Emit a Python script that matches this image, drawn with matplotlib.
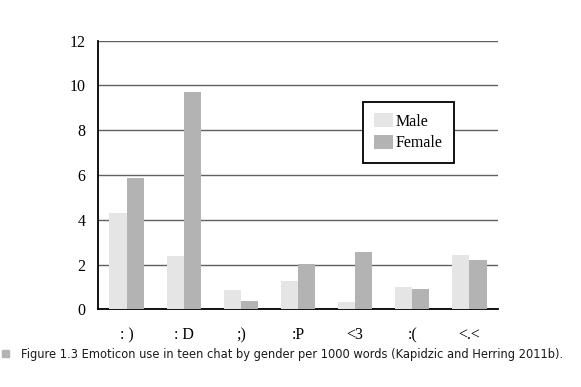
import numpy as np
import matplotlib.pyplot as plt
from matplotlib.patches import Rectangle

# emoticon categories and rates per 1000 words
emoticons = [": )", ": D", ";)", ":P", "<3", ":(", "<.<"]
male = [4.3, 2.4, 0.86, 1.26, 0.34, 1.01, 2.42]
female = [5.85, 9.7, 0.38, 2.02, 2.56, 0.89, 2.2]
yticks = [0, 2, 4, 6, 8, 10, 12]

fig = plt.figure(figsize=(5.81, 3.87), dpi=100)
ax = fig.add_axes([0.1687, 0.2008, 0.6885, 0.694])

x = np.arange(len(emoticons))
w = 0.3
ax.bar(x - w / 2, male, w, color="#e5e5e5", label="Male", zorder=3)
ax.bar(x + w / 2, female, w, color="#b3b3b3", label="Female", zorder=3)

ax.set_xlim(-0.5, len(emoticons) - 0.5)
ax.set_ylim(0, 12)
ax.set_yticks(yticks)
ax.set_xticks(x)
ax.set_xticklabels(emoticons)
ax.yaxis.grid(True, color="#606060", linewidth=1.0, zorder=0)
ax.set_axisbelow(True)

for s in ["top", "right"]:
    ax.spines[s].set_visible(False)
ax.spines["left"].set_linewidth(1.3)
ax.spines["bottom"].set_linewidth(1.3)
ax.tick_params(length=0, labelsize=11.5, pad=9)
ax.tick_params(axis="x", pad=13)
for lbl in ax.get_xticklabels() + ax.get_yticklabels():
    lbl.set_fontfamily("Liberation Serif")

leg = ax.legend(loc="upper left", bbox_to_anchor=(0.6625, 0.772), borderaxespad=0,
                frameon=True, fancybox=False, edgecolor="black", framealpha=1,
                prop={"family": "Liberation Serif", "size": 11.5},
                handlelength=1.2, handleheight=0.95, handletextpad=0.15,
                borderpad=0.7, labelspacing=0.35)
leg.get_frame().set_linewidth(1.3)

# caption under the chart
fig.patches.append(Rectangle((0.003, 0.077), 0.013, 0.018, transform=fig.transFigure,
                             color="#b3b3b3", figure=fig))
fig.text(0.037, 0.085, "Figure 1.3 Emoticon use in teen chat by gender per 1000 words (Kapidzic and Herring 2011b).",
         fontsize=8.3, family="DejaVu Sans", va="center", ha="left", color="#1a1a1a")

fig.savefig("out.png", dpi=100)
